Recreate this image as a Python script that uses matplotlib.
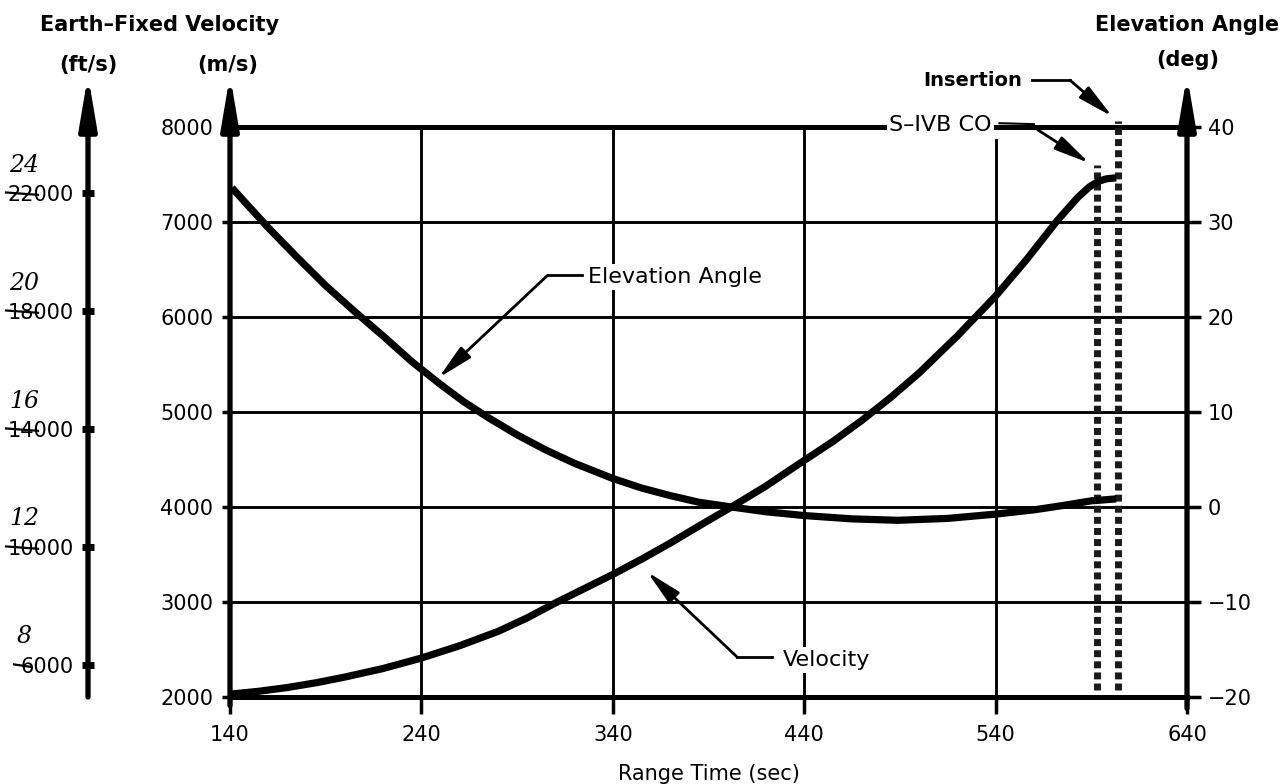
import numpy as np
import matplotlib.pyplot as plt

plt.rcParams['font.family'] = ['DejaVu Sans']

# ---- data ----
vel_time = [140, 155, 170, 185, 200, 220, 240, 260, 280, 295, 310, 325, 340, 355, 370, 385,
            402, 420, 437, 455, 470, 485, 500, 520, 540, 556, 572, 583, 589, 594, 598, 603]
vel_ms = [2030, 2060, 2100, 2150, 2210, 2300, 2410, 2540, 2690, 2830, 2990, 3140, 3290, 3450,
          3620, 3800, 4000, 4220, 4450, 4690, 4910, 5150, 5410, 5800, 6220, 6600, 7010, 7260,
          7370, 7430, 7455, 7465]

elev_time = [141, 150, 160, 175, 190, 205, 220, 235, 250, 262, 275, 290, 305, 320, 340, 355,
             370, 385, 402, 420, 440, 465, 489, 515, 540, 560, 575, 590, 603]
elev_deg = [33.6, 31.6, 29.4, 26.3, 23.3, 20.6, 18.0, 15.3, 12.9, 11.1, 9.4, 7.6, 6.0, 4.6,
            3.0, 2.0, 1.2, 0.5, 0.0, -0.5, -0.9, -1.25, -1.4, -1.2, -0.75, -0.3, 0.15, 0.65, 0.85]

event_names = ['S\u2013IVB CO', 'Insertion']
event_times = [593, 604]

x_ticks = [140, 240, 340, 440, 540, 640]
ms_ticks = [2000, 3000, 4000, 5000, 6000, 7000, 8000]
deg_ticks = [-20, -10, 0, 10, 20, 30, 40]
fts_ticks = [8000, 12000, 16000, 20000, 24000]
fts_printed = ['6000', '10000', '14000', '18000', '22000']
fts_written = ['8', '12', '16', '20', '24']

W, H = 1284, 784
fig = plt.figure(figsize=(W / 100, H / 100), dpi=100)
ax = fig.add_axes([230 / W, 1 - 697 / H, 957 / W, 570 / H])

ax.set_xlim(140, 640)
ax.set_ylim(2000, 8000)
ax.set_xticks(x_ticks)
ax.set_yticks(ms_ticks)
ax.tick_params(axis='both', labelsize=15, width=2.5, color='black')
ax.tick_params(axis='x', length=12, pad=8)
ax.tick_params(axis='y', length=6, pad=6)

# grid
for t in x_ticks[1:-2]:
    ax.axvline(t, color='black', lw=2.1, zorder=1)
ax.plot([540, 540], [2000, 7860], color='black', lw=2.1, zorder=1)
for v in ms_ticks[1:-1]:
    ax.axhline(v, color='black', lw=2.1, zorder=1)

for side in ['left', 'right']:
    ax.spines[side].set_visible(False)
ax.spines['top'].set_linewidth(3.6)
ax.spines['bottom'].set_linewidth(3.6)

# velocity curve
ax.plot(vel_time, vel_ms, color='black', lw=5.2, solid_capstyle='butt',
        solid_joinstyle='round', zorder=4)

# elevation axis
ax_el = ax.twinx()
ax_el.set_ylim(-20, 40)
ax_el.set_yticks(deg_ticks)
ax_el.set_yticklabels([str(d).replace('-', '\u2212') for d in deg_ticks])
ax_el.tick_params(axis='y', labelsize=15, length=10, width=2.5, pad=5)
for s in ax_el.spines.values():
    s.set_visible(False)
ax_el.plot(elev_time, elev_deg, color='black', lw=5.2, solid_capstyle='butt',
           solid_joinstyle='round', zorder=4)

# ft/s axis (outer left)
ax_ft = ax.twinx()
ax_ft.set_ylim(6915, 26240)
ax_ft.yaxis.set_ticks_position('left')
ax_ft.spines['left'].set_position(('outward', 102))
for s in ax_ft.spines.values():
    s.set_visible(False)
ax_ft.set_yticks(fts_ticks)
ax_ft.set_yticklabels(fts_printed)
ax_ft.tick_params(axis='y', labelsize=15, direction='inout', length=9, width=5, pad=6)

ft_x = -142 / 957
trans_ft = ax_ft.get_yaxis_transform()
for val, lab, txt in zip(fts_ticks, fts_printed, fts_written):
    ax_ft.text((24 - 230) / 957, val + 950, txt, transform=trans_ft, fontsize=17,
               family='DejaVu Serif', style='italic', ha='center', va='center')
    if len(lab) == 4:
        x0, x1 = 14, 30
    else:
        x0, x1 = 6, 38
    ax_ft.plot([(x0 - 230) / 957, (x1 - 230) / 957], [val + 20, val - 60],
               transform=trans_ft, color='black', lw=1.6, clip_on=False, zorder=6)

# axis lines with arrow heads
top = (697 - 75) / 570
for xf, bot in [(0, -0.015), (1, -0.02), (ft_x, 0.0)]:
    ax.annotate('', xy=(xf, top), xytext=(xf, bot), xycoords='axes fraction',
                arrowprops=dict(arrowstyle='-|>,head_length=1.3,head_width=0.22',
                                lw=3.8, color='black', mutation_scale=24,
                                shrinkA=0, shrinkB=0), zorder=6)

# axis titles
fig.text(160 / W, 1 - 25 / H, 'Earth\u2013Fixed Velocity', fontsize=15, weight='bold',
         ha='center', va='center')
fig.text(88 / W, 1 - 65 / H, '(ft/s)', fontsize=15, weight='bold', ha='center', va='center')
fig.text(228 / W, 1 - 65 / H, '(m/s)', fontsize=15, weight='bold', ha='center', va='center')
fig.text(1187 / W, 1 - 25 / H, 'Elevation Angle', fontsize=15, weight='bold',
         ha='center', va='center')
fig.text(1188 / W, 1 - 60 / H, '(deg)', fontsize=15, weight='bold', ha='center', va='center')
ax.set_xlabel('Range Time (sec)', fontsize=15, labelpad=14)

# event dotted lines
ev_tops = [7600, 8060]
for t, top_v in zip(event_times, ev_tops):
    ax.plot([t, t], [2070, top_v], color='#1a1a1a', lw=5, linestyle=(0, (1, 0.6)),
            dash_capstyle='butt', clip_on=False, zorder=3)

arrow_kw = dict(arrowstyle='-|>,head_length=1.2,head_width=0.25', lw=2, color='black',
                mutation_scale=18, shrinkA=0, shrinkB=0)
bbox = dict(facecolor='white', edgecolor='none', pad=2)

# Elevation Angle label
ax.plot([306, 324], [6440, 6440], color='black', lw=2, zorder=5)
ax.annotate('', xy=(249, 5360), xytext=(306, 6440), arrowprops=arrow_kw, zorder=5)
ax.text(327, 6420, 'Elevation Angle', fontsize=16, ha='left', va='center', bbox=bbox, zorder=5)

# Velocity label
ax.plot([405, 423], [2420, 2420], color='black', lw=2, zorder=5)
ax.annotate('', xy=(358, 3316), xytext=(405, 2420), arrowprops=arrow_kw, zorder=5)
ax.text(429, 2390, 'Velocity', fontsize=16, ha='left', va='center', bbox=bbox, zorder=5)

# S-IVB CO label
ax.text(538, 8020, event_names[0], fontsize=16, ha='right', va='center', bbox=bbox,
        zorder=7, clip_on=False)
ax.plot([542, 560], [8040, 8030], color='black', lw=1.5, clip_on=False, zorder=7)
ax.plot([542, 560], [7990, 7990], color='black', lw=1.5, clip_on=False, zorder=7)
ax.annotate('', xy=(589, 7620), xytext=(562, 7970), arrowprops=arrow_kw, zorder=7,
            annotation_clip=False)

# Insertion label
ax.text(554, 8490, event_names[1], fontsize=14, weight='bold', ha='right', va='center',
        zorder=7, clip_on=False)
ax.plot([559, 579], [8490, 8490], color='black', lw=2, clip_on=False, zorder=7)
ax.annotate('', xy=(601, 8110), xytext=(579, 8490), arrowprops=arrow_kw, zorder=7,
            annotation_clip=False)

fig.savefig('out.png', dpi=100)
